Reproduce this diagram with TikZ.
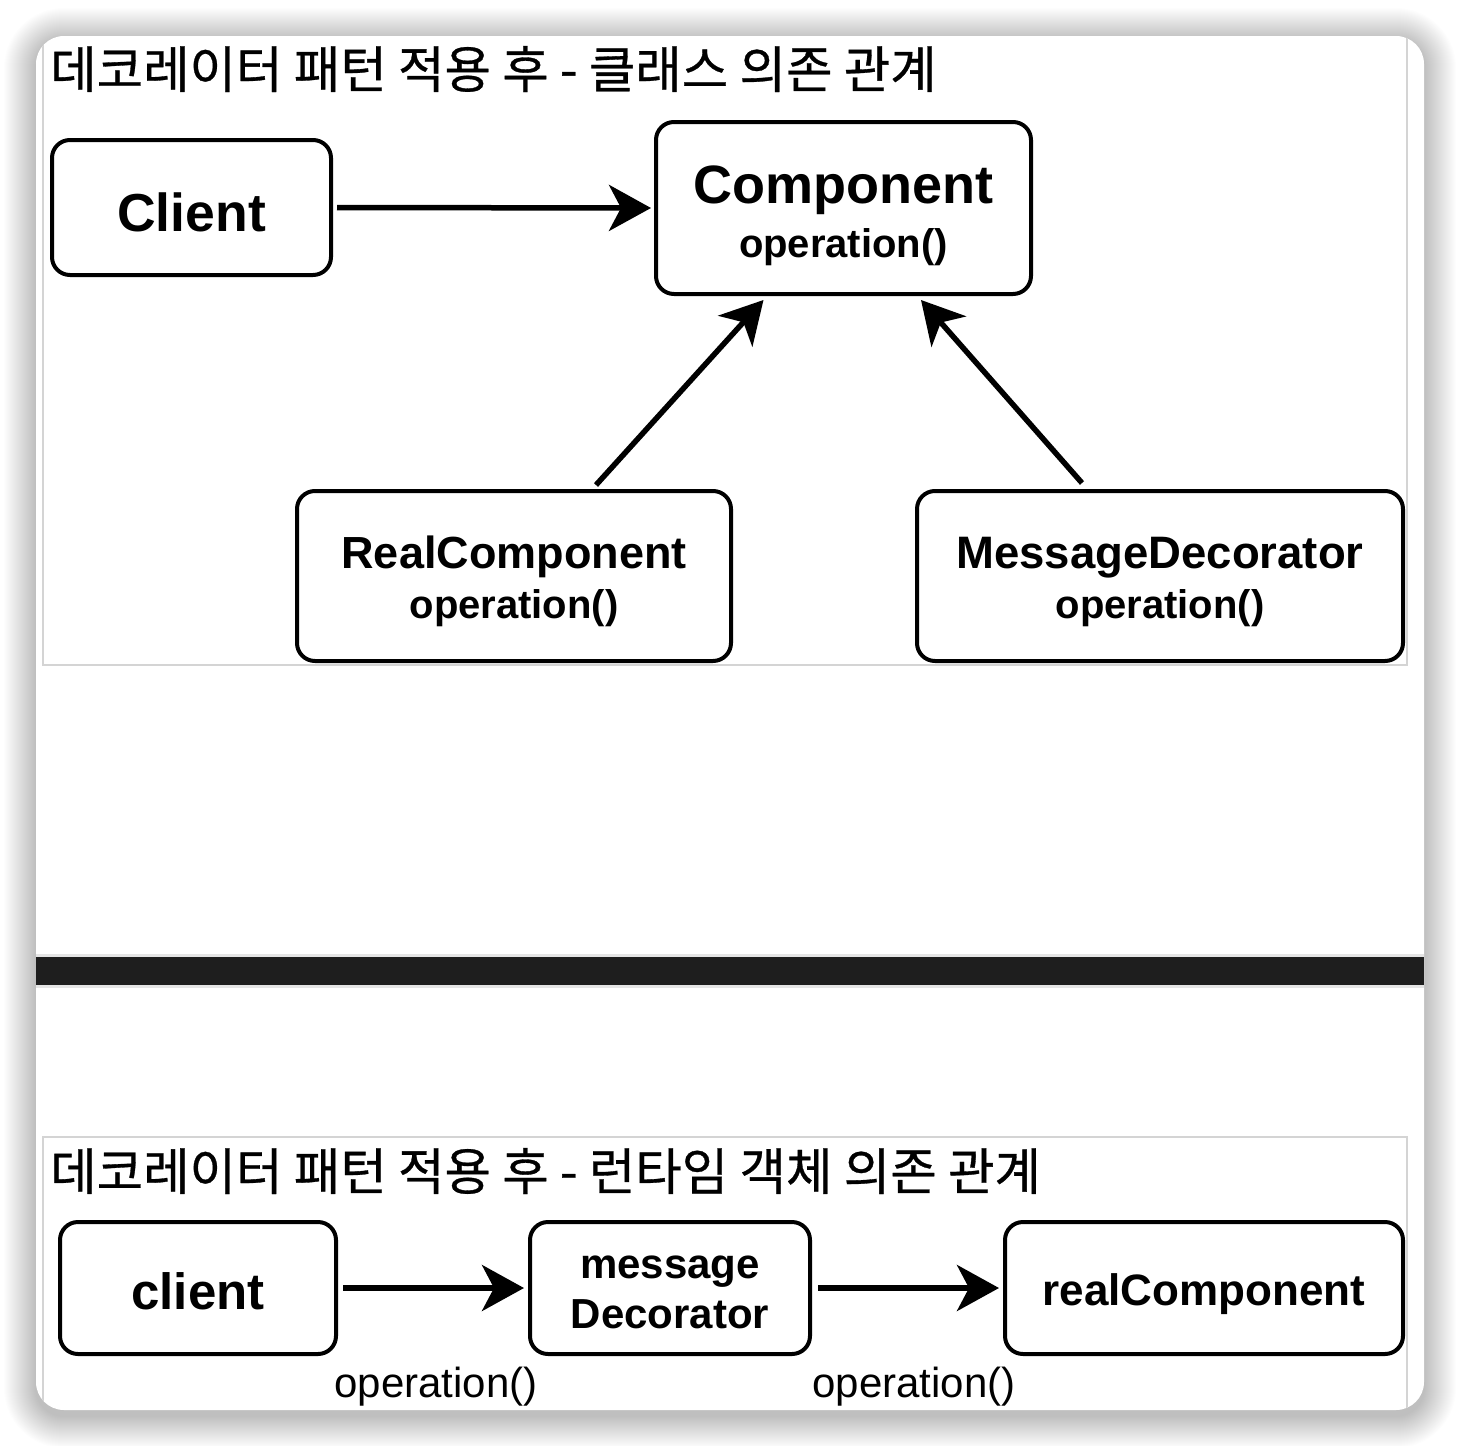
\documentclass[tikz,border=0pt]{standalone}
\usepackage{fontspec}
\setmainfont{Liberation Sans}
\newfontfamily\krfont[FakeBold=0.6]{Noto Sans CJK KR}
\usetikzlibrary{arrows.meta}
\definecolor{panelgray}{HTML}{D4D4D4}
\definecolor{barblack}{HTML}{1E1E1E}
\begin{document}
\begin{tikzpicture}[x=1pt,y=-1pt,
  box/.style n args={2}{draw=black, line width=4pt, rounded corners=18pt,
    minimum width=#1, minimum height=#2, inner sep=0pt, fill=white},
  lbl/.style={anchor=base, inner sep=0pt, font=\bfseries\fontsize{#1}{#1}\selectfont},
  plain/.style={anchor=base, inner sep=0pt, font=\fontsize{42}{42}\selectfont},
  title/.style={anchor=west, inner sep=0pt, font=\krfont\fontsize{50.5}{50.5}\selectfont},
  arr/.style={line width=5.5pt, -{Stealth[length=42pt,width=46pt,inset=12pt]}}]

% page
\useasboundingbox (0,0) rectangle (1460,1446);
\fill[white] (0,0) rectangle (1460,1446);

% shadow
\foreach \i in {1,...,32} {
  \fill[black, opacity=0.0075, rounded corners={28pt+\i pt}]
    ({36-\i},{40-\i}) rectangle ({1424+\i},{1416+\i});
}
% frame
\fill[white, rounded corners=28pt] (36,36) rectangle (1424,1410);

\begin{scope}
  \clip[rounded corners=28pt] (36,36) rectangle (1424,1410);
  \draw[panelgray, line width=2pt] (43,30) rectangle (1407,665);
  \draw[panelgray, line width=2pt] (43,1137) rectangle (1407,1430);
  \fill[panelgray!60] (36,954) rectangle (1424,988);
  \fill[barblack] (36,957) rectangle (1424,985);
\end{scope}

% titles
\node[title] (t1) at (50,69) {데코레이터 패턴 적용 후 - 클래스 의존 관계};
\node[title] (t2) at (50,1171) {데코레이터 패턴 적용 후 - 런타임 객체 의존 관계};

% top boxes
\node[box={279pt}{135pt}] (Client) at (191.5,207.5) {};
\node[box={375pt}{172pt}] (Component) at (843.5,208) {};
\node[box={434pt}{170pt}] (Real) at (514,576) {};
\node[box={486pt}{170pt}] (Msg) at (1160,576) {};

\node[lbl=53.5] (lClient) at (191.5,231) {Client};
\node[lbl=54] (lComp) at (843.5,203) {Component};
\node[lbl=40] (lCompOp) at (843.5,257) {operation()};
\node[lbl=45] (lReal) at (514,568) {RealComponent};
\node[lbl=40] (lRealOp) at (514,618) {operation()};
\node[lbl=45.5] (lMsg) at (1160,568) {MessageDecorator};
\node[lbl=40] (lMsgOp) at (1160,618) {operation()};

% top arrows
\draw[arr] ([xshift=4pt]Client.east) -- ([xshift=-3pt]Component.west);
\draw[arr] ([xshift=82pt,yshift=4pt]Real.north) -- ([xshift=-80pt,yshift=-4pt]Component.south);
\draw[arr] ([xshift=-78pt,yshift=6pt]Msg.north) -- ([xshift=77.5pt,yshift=-4pt]Component.south);

% bottom boxes
\node[box={276pt}{132pt}] (client) at (198,1288) {};
\node[box={280pt}{132pt}] (msgDec) at (670,1288) {};
\node[box={398pt}{132pt}] (realComp) at (1204,1288) {};

\node[lbl=51] (lclient) at (198,1309) {client};
\node[lbl=42] (lmessage) at (670,1278) {message};
\node[lbl=42] (lDecorator) at (670,1328) {Decorator};
\node[lbl=44] (lrealComp) at (1204,1305) {realComponent};

% bottom arrows
\draw[arr] ([xshift=5pt]client.east) -- ([xshift=-4pt]msgDec.west);
\draw[arr] ([xshift=6pt]msgDec.east) -- ([xshift=-4pt]realComp.west);

\node[plain] (op1) at (436,1397) {operation()};
\node[plain] (op2) at (914,1397) {operation()};
\end{tikzpicture}
\end{document}
